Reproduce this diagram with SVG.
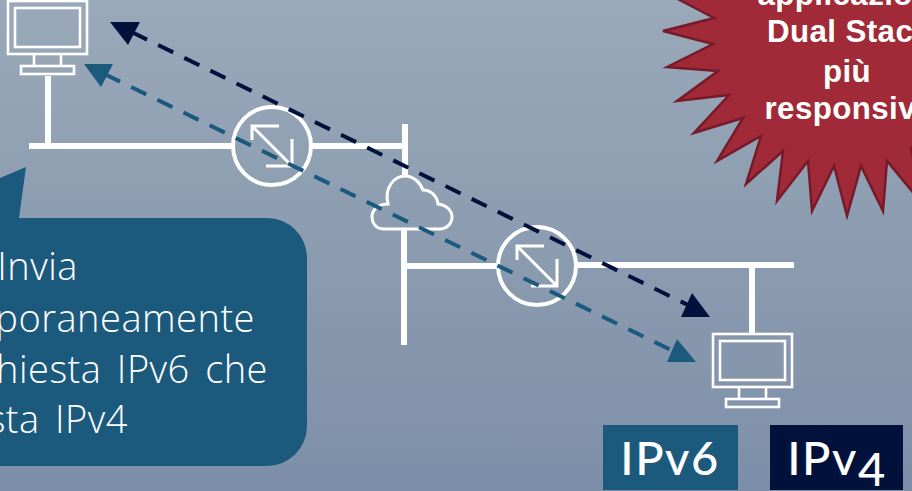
<svg xmlns="http://www.w3.org/2000/svg" width="912" height="491" viewBox="0 0 912 491">
<style>
.w{fill:none;stroke:#fff;stroke-width:6}
.t{fill:none;stroke:#fff;stroke-width:2.6}
.a{fill:none;stroke:#fff;stroke-width:3}
.c{fill:none;stroke:#fff;stroke-width:4}
.d{fill:none;stroke-width:4;stroke-dasharray:16.8 12.3}
.call{font-family:"Open Sans","Noto Sans",sans-serif;font-weight:300;font-size:38px;letter-spacing:.5px;word-spacing:5px;fill:#fff;text-anchor:end}
.star{font-family:"Liberation Sans",Arial,sans-serif;font-weight:700;font-size:31.3px;letter-spacing:.4px;fill:#fff}
.tag{font-family:Lato,"Open Sans",sans-serif;font-size:47px;font-weight:500;letter-spacing:1.5px;fill:#fff;text-anchor:middle}
</style>
<defs>
<linearGradient id="bg" x1="0" y1="0" x2="0" y2="1"><stop offset="0" stop-color="#9aa9b9"/><stop offset="1" stop-color="#7d8fa8"/></linearGradient>
<g id="pc">
<rect class="t" x="1" y="1" width="79" height="53"/>
<rect class="t" x="8" y="8" width="65" height="39"/>
<path class="t" d="M27 54V66M54 54V66"/>
<rect class="t" x="14" y="66" width="53" height="8"/>
</g>
<g id="rt">
<circle class="c" r="39"/>
<path class="a" d="M-20-20L20 20M-20 -6V-20H7M20-7V20H-6"/>
</g>
</defs>
<rect width="912" height="491" fill="url(#bg)"/>
<g id="network-lines">
<path class="w" d="M29 146H232M48 76V146M312 146H408M405 124V176M404 230V345M401 266H496M577 265H794M752 265V333"/>
</g>
<g id="host-a"><use href="#pc" x="7" y="0"/></g>
<g id="router-a"><use href="#rt" x="272" y="146"/></g>
<g id="cloud"><path d="M384 229C375 229 372 222 372 217C372 209 379 204 388 204C384 188 394 176 405 176C413 176 420 182 423 190C431 190 437 196 438 204C446 205 452 210 452 217C452 224 446 229 440 229Z" fill="none" stroke="#fff" stroke-width="3"/></g>
<g id="router-b"><use href="#rt" x="537" y="266"/></g>
<g id="host-b"><use href="#pc" x="712" y="333"/></g>
<g id="connectors">
<path class="d" stroke="#00123c" d="M132 32.2L690 306"/>
<path class="d" stroke="#1c5a7d" d="M105 74.3L670 349.5"/>
<path fill="#00123c" d="M110 22H140L128 45ZM692 293L710 317H681Z"/>
<path fill="#1c5a7d" d="M84 64H113L101 87ZM677 339L696 362H667Z"/>
</g>
<g id="callout">
<path fill="#1c5a7d" d="M-5 180L26 167L19 218H267A40 40 0 0 1 307 258V426A40 40 0 0 1 267 466H-5Z"/>
<text class="call" x="78" y="280">Invia</text>
<text class="call" x="255" y="332">poraneamente</text>
<text class="call" x="268" y="383">hiesta IPv6 che</text>
<text class="call" x="128" y="433">sta IPv4</text>
</g>
<g id="burst">
<path fill="#a02a38" stroke="#771a29" stroke-width="2.5" d="M676 -2L714 18L663 31L713 44L667 67L718 71L677 101L729 95L694 133L743 118L717 161L761 136L746 184L783 151L777 201L808 161L812 211L834 166L847 216L861 166L883 211L887 161L925 207L911 148L960 148V-5H676Z"/>
<text class="star" x="757.5" y="4.5">applicazio</text>
<text class="star" x="767" y="42">Dual Stac</text>
<text class="star" x="847" y="81.5" text-anchor="middle">più</text>
<text class="star" x="764.5" y="119">responsiv</text>
</g>
<g id="legend-ipv6"><rect x="603" y="425" width="135" height="65" fill="#1c5a7d"/><text class="tag" x="670" y="475">IPv6</text></g>
<g id="legend-ipv4"><rect x="770" y="425" width="133" height="65" fill="#00123c"/><text class="tag" x="837" y="475">IPv<tspan dy="11">4</tspan></text></g>
</svg>
